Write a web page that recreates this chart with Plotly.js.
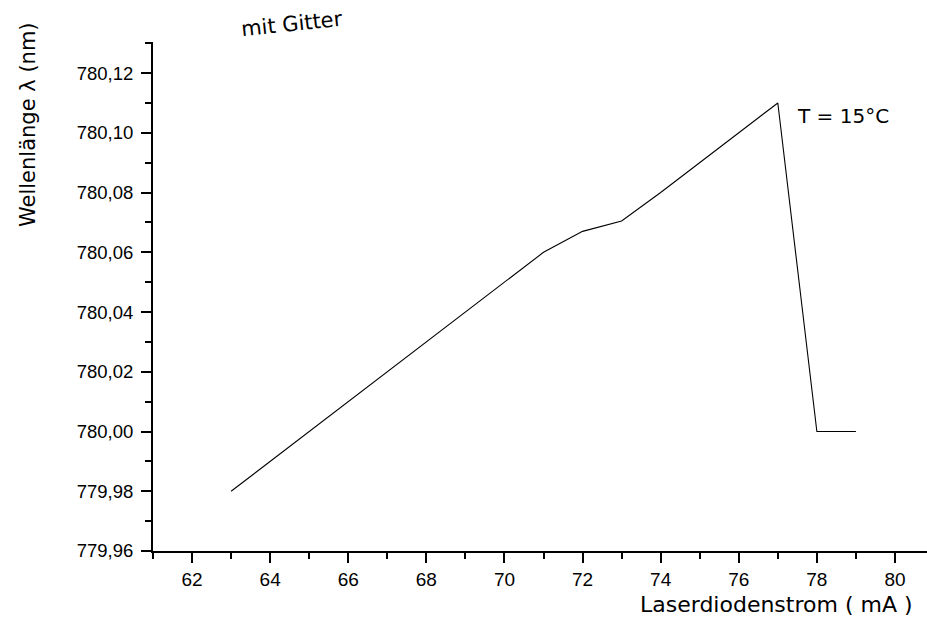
<!DOCTYPE html>
<html>
<head>
<meta charset="utf-8">
<script src="https://cdn.plot.ly/plotly-3.0.1.min.js"></script>
<style>html,body{margin:0;padding:0;background:#fff;}#chart{width:927px;height:631px;}</style>
</head>
<body>
<div id="chart"></div>
<script>
const current_mA = [63, 64, 65, 66, 67, 68, 69, 70, 71, 72, 73, 74, 75, 76, 77, 78, 79];
const wavelength_nm = [779.98, 779.99, 780.00, 780.01, 780.02, 780.03, 780.04, 780.05, 780.06, 780.067, 780.0705, 780.08, 780.09, 780.10, 780.11, 780.00, 780.00];
const xTickVals = [62, 64, 66, 68, 70, 72, 74, 76, 78, 80];
const yTickVals = [779.96, 779.98, 780.00, 780.02, 780.04, 780.06, 780.08, 780.10, 780.12];
const titleText = "mit Gitter";
const xTitle = "Laserdiodenstrom ( mA )";
const yTitle = "Wellenlänge λ (nm)";
const noteText = "T = 15°C";

const handFamily = "DejaVu Sans, sans-serif";

Plotly.newPlot("chart", [{
  x: current_mA, y: wavelength_nm, type: "scatter", mode: "lines",
  line: {color: "#000", width: 1.1}, hoverinfo: "skip", showlegend: false
}], {
  width: 927, height: 631,
  paper_bgcolor: "#fff", plot_bgcolor: "#fff",
  separators: ",.",
  margin: {l: 153, r: 0, t: 42, b: 80},
  font: {family: "Liberation Sans, Arial, sans-serif", size: 19, color: "#000"},
  xaxis: {
    range: [61, 80.82], showgrid: false, zeroline: false,
    showline: true, linecolor: "#000", linewidth: 2,
    ticks: "outside", ticklen: 10, tickwidth: 2, tickcolor: "#000",
    tickmode: "array", tickvals: xTickVals,
    minor: {dtick: 1, tick0: 61, ticks: "outside", ticklen: 6, tickwidth: 2, tickcolor: "#000", showgrid: false},
    tickfont: {size: 19}
  },
  yaxis: {
    range: [779.96, 780.1304], showgrid: false, zeroline: false,
    showline: true, linecolor: "#000", linewidth: 2,
    ticks: "outside", ticklen: 10, tickwidth: 2, tickcolor: "#000",
    tickmode: "array", tickvals: yTickVals, tickformat: ".2f",
    ticklabelstandoff: 4,
    minor: {dtick: 0.01, tick0: 779.96, ticks: "outside", ticklen: 6, tickwidth: 2, tickcolor: "#000", showgrid: false},
    tickfont: {size: 18.5}
  },
  annotations: [
    {text: titleText, xref: "paper", yref: "paper", x: (292-153)/774, y: 1 + (42-24)/509, xanchor: "center", yanchor: "middle", showarrow: false, font: {family: handFamily, size: 21, color: "#000"}, textangle: -6},
    {text: noteText, xref: "x", yref: "y", x: 77.45, y: 780.1055, xanchor: "left", yanchor: "middle", showarrow: false, font: {family: handFamily, size: 20, color: "#000"}},
    {text: xTitle, xref: "paper", yref: "paper", x: (776-153)/774, y: -(604-551)/509, xanchor: "center", yanchor: "middle", showarrow: false, font: {family: handFamily, size: 22, color: "#000"}},
    {text: yTitle, xref: "paper", yref: "paper", x: -(153-28)/774, y: (551-125)/509, xanchor: "center", yanchor: "middle", showarrow: false, textangle: -90, font: {family: handFamily, size: 21, color: "#000"}}
  ]
}, {displayModeBar: false, staticPlot: true});
</script>
</body>
</html>
